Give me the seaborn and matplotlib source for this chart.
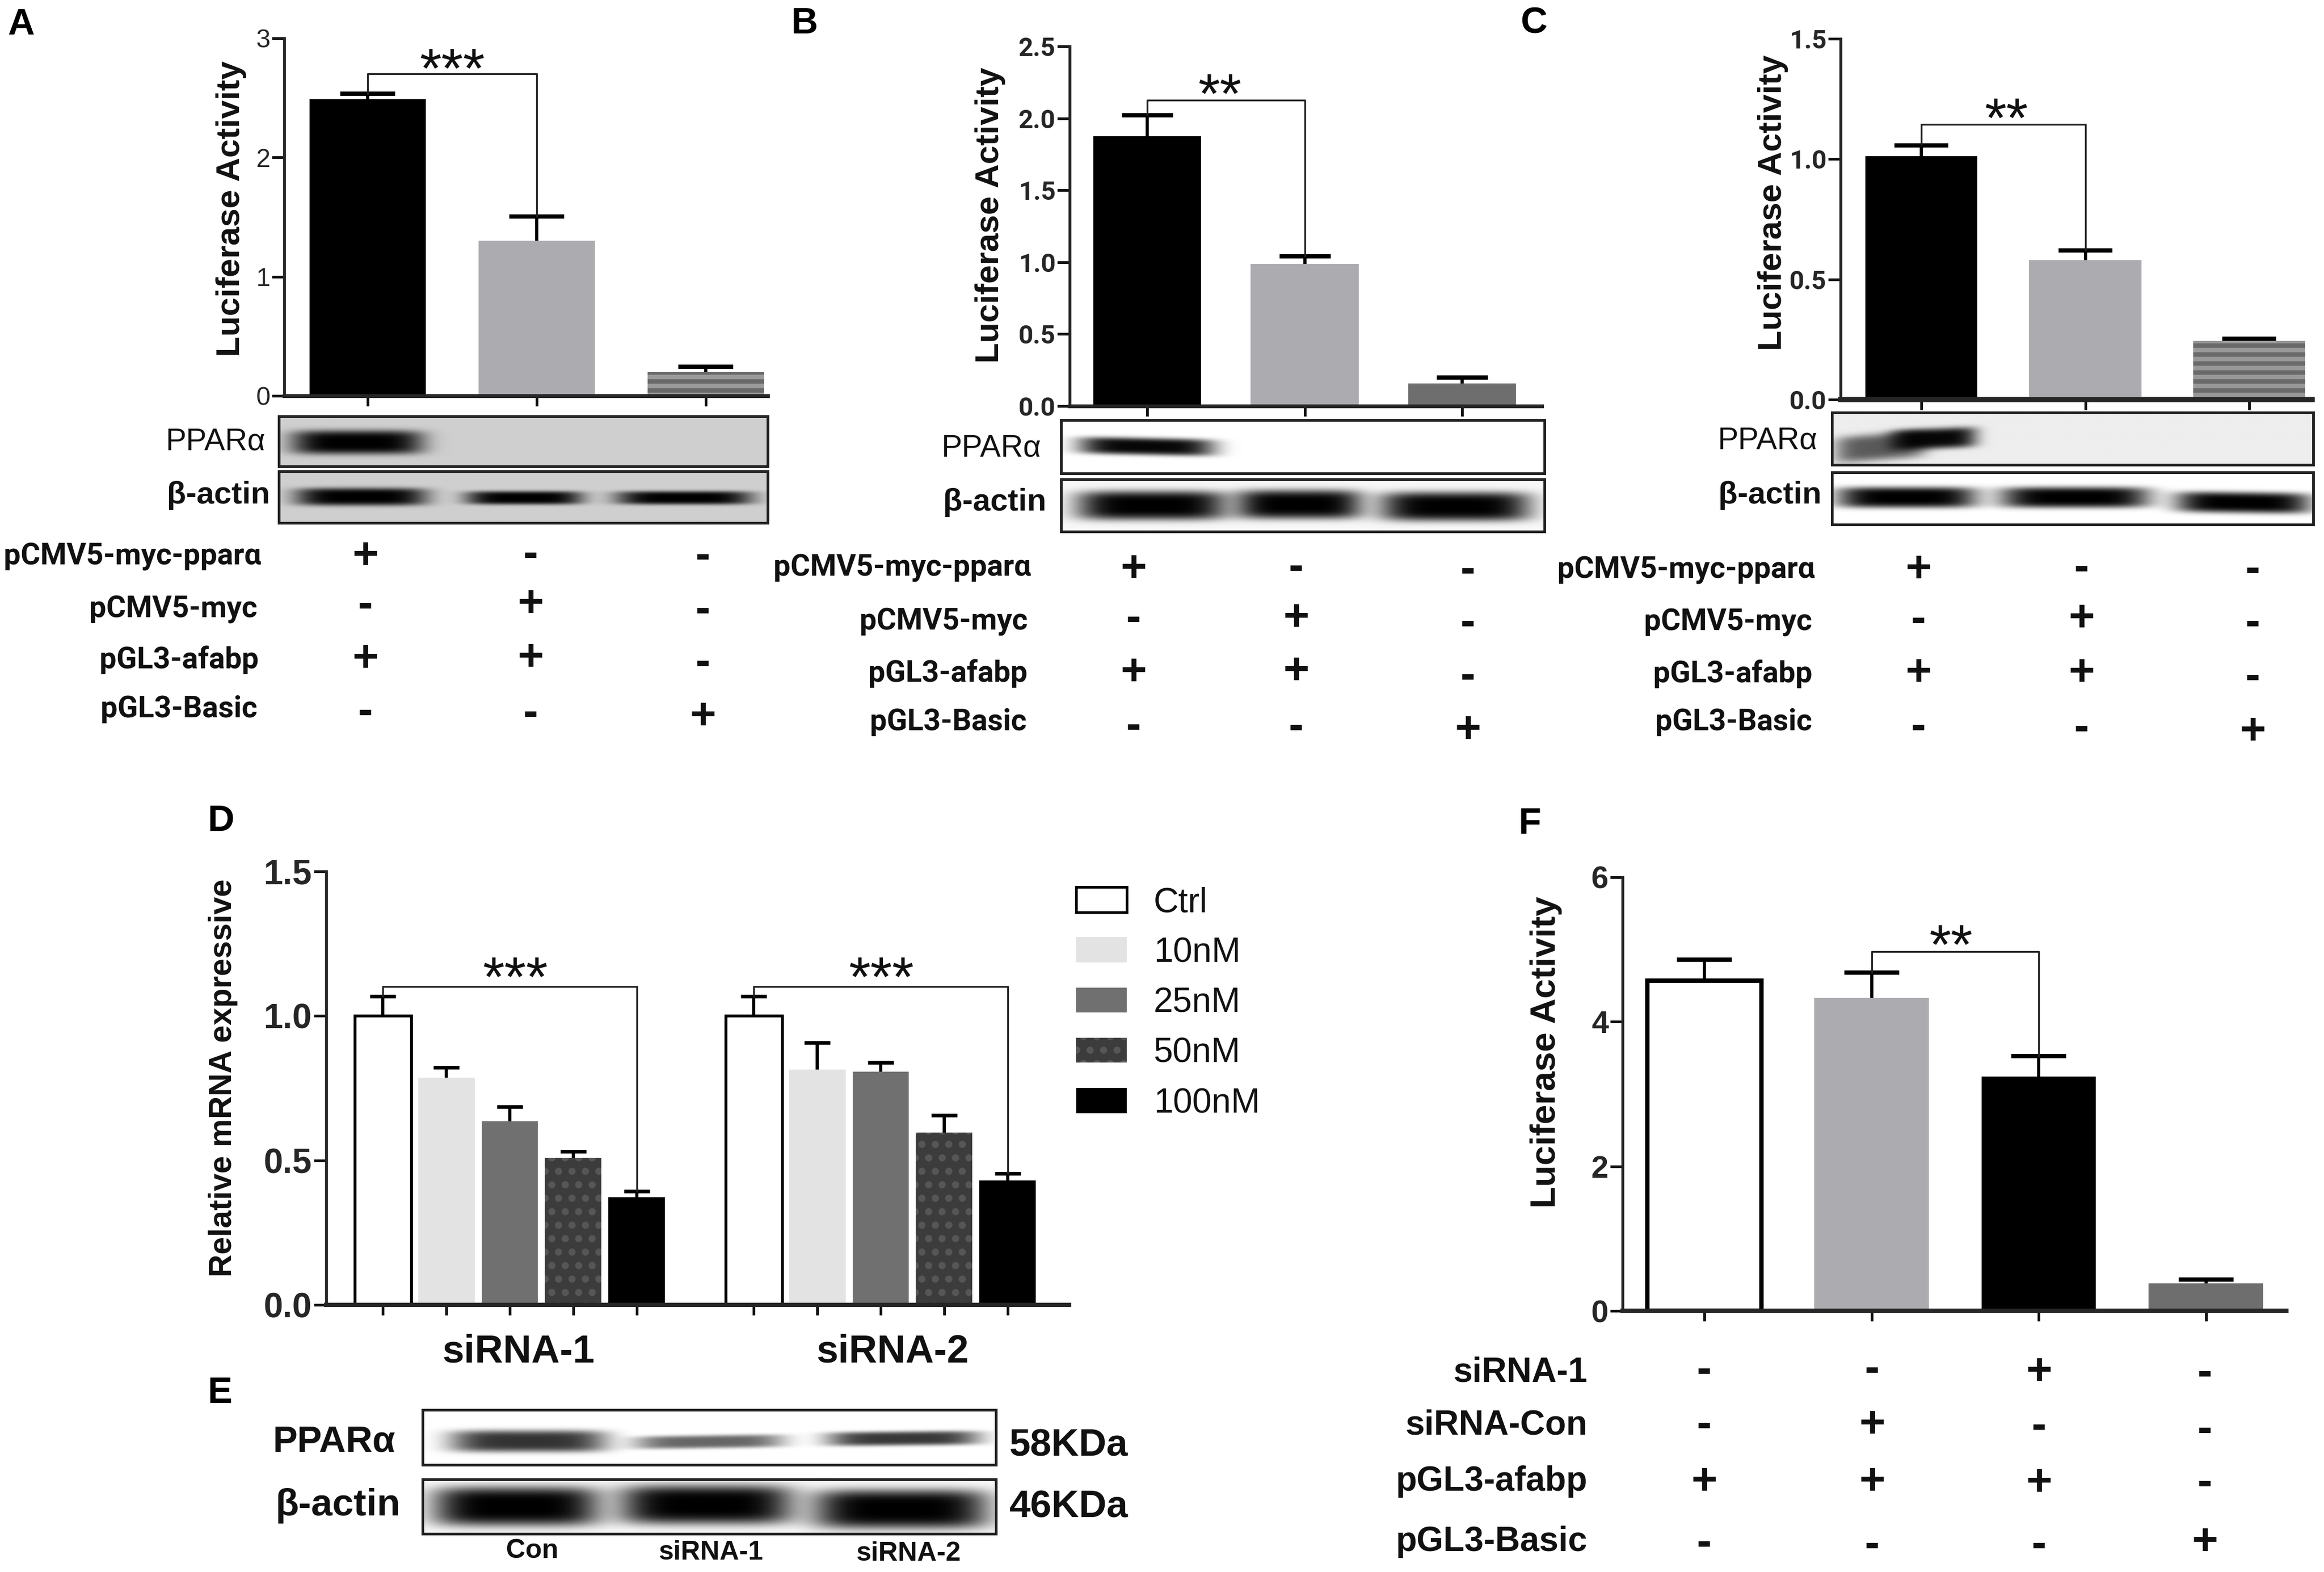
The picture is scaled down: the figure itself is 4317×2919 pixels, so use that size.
import numpy as np
import pandas as pd
import seaborn as sns
import matplotlib.pyplot as plt
from matplotlib.patches import Patch

W, H = 4317, 2919

# panel A
cats_a = ["pparα", "myc", "basic"]
vals_a = [2.49, 1.30, 0.20]
errs_a = [0.045, 0.205, 0.046]
# panel B
cats_b = ["pparα", "myc", "basic"]
vals_b = [1.876, 0.987, 0.156]
errs_b = [0.145, 0.053, 0.044]
# panel C
cats_c = ["pparα", "myc", "basic"]
vals_c = [1.013, 0.58, 0.244]
errs_c = [0.043, 0.04, 0.009]
# panel D
groups_d = ["siRNA-1", "siRNA-2"]
doses_d = ["Ctrl", "10nM", "25nM", "50nM", "100nM"]
vals_d1 = [1.0, 0.787, 0.635, 0.509, 0.372]
errs_d1 = [0.067, 0.035, 0.051, 0.022, 0.022]
vals_d2 = [1.0, 0.814, 0.806, 0.597, 0.431]
errs_d2 = [0.067, 0.093, 0.033, 0.059, 0.024]
# panel F
cats_f = ["blank", "con", "sirna", "basic"]
vals_f = [4.566, 4.333, 3.24, 0.383]
errs_f = [0.294, 0.347, 0.287, 0.047]

row_names_abc = ["pCMV5-myc-pparα", "pCMV5-myc", "pGL3-afabp", "pGL3-Basic"]
row_names_f = ["siRNA-1", "siRNA-Con", "pGL3-afabp", "pGL3-Basic"]
signs_abc = [["+", "-", "-"], ["-", "+", "-"], ["+", "+", "-"], ["-", "-", "+"]]
signs_f = [["-", "-", "+", "-"], ["-", "+", "-", "-"], ["+", "+", "+", "-"], ["-", "-", "-", "+"]]

# no condensed face is installed, Roboto is the closest to the squeezed labels
TIGHT = ["Roboto", "Liberation Sans"]
GREY = "#ababb0"

sns.set_style("ticks")
plt.rcParams["font.family"] = ["Liberation Sans", "DejaVu Sans"]
plt.rcParams["hatch.linewidth"] = 2.0

fig = plt.figure(figsize=(W / 300, H / 300), dpi=300)


def px_axes(x0, y0, x1, y1):
    return fig.add_axes([x0 / W, 1 - y1 / H, (x1 - x0) / W, (y1 - y0) / H])


def px_text(x, y, s, **kw):
    kw.setdefault("color", "#111111")
    kw.setdefault("va", "center")
    return fig.text(x / W, 1 - y / H, s, **kw)


def style_axis(ax, yticks, yticklabels, tick_font, left_lw, bottom_lw):
    sns.despine(ax=ax)
    ax.spines["left"].set_linewidth(left_lw)
    ax.spines["bottom"].set_linewidth(bottom_lw)
    ax.set_yticks(yticks)
    ax.set_yticklabels(yticklabels, **tick_font)
    ax.tick_params(axis="y", length=5.5, width=1.2, pad=0.8, color="#111111")
    ax.tick_params(axis="x", length=4.5, width=1.2, color="#111111", labelbottom=False)
    ax.set_xlabel("")


def add_errors(ax, xs, vals, errs, capsize, capthick=1.9):
    eb = ax.errorbar(xs, vals, yerr=[np.zeros(len(errs)), errs], fmt="none", ecolor="black",
                     elinewidth=1.4, capsize=capsize, capthick=capthick, zorder=4)
    # only the upper cap is drawn in the original
    eb[1][0].set_visible(False)


def bracket(ax, x0, x1, y0, y1, top):
    ax.plot([x0, x0, x1, x1], [y0, top, top, y1], color="#222222", lw=0.8, zorder=5)


def luciferase_panel(box, c0, step, cats, vals, errs, colors, ylim, yticks, yticklabels, tick_font,
                     capsize, bottom_lw, pair, top, hatches=None, edges=None):
    ax = px_axes(*box)
    sns.barplot(x=cats, y=vals, hue=cats, palette=colors, saturation=1, width=0.685,
                legend=False, ax=ax)
    for i, patch in enumerate(ax.patches[:len(cats)]):
        patch.set_linewidth(0)
        if hatches and hatches[i]:
            patch.set_hatch(hatches[i])
            patch.set_edgecolor("#6a6a6a")
        if edges and edges[i]:
            patch.set_edgecolor(edges[i])
            patch.set_linewidth(2.0)
    add_errors(ax, np.arange(len(cats)), vals, errs, capsize)
    ax.set_ylim(*ylim)
    ax.set_xlim((box[0] - c0) / step, (box[2] - c0) / step)
    style_axis(ax, yticks, yticklabels, tick_font, 1.3, bottom_lw)
    a, b = pair
    bracket(ax, a, b, vals[a] + errs[a], vals[b] + errs[b], top)
    return ax


def blot(box, bg, bands):
    ax = px_axes(*box)
    x, y = np.meshgrid(np.linspace(0, 1, 500), np.linspace(0, 1, 120))
    light = np.ones_like(x)
    for xc, yc, hw, hh, strength, tilt in bands:
        dy = y - yc - tilt * (x - xc)
        band = strength * np.exp(-np.abs((x - xc) / hw) ** 5) * np.exp(-np.abs(dy / hh) ** 4)
        light = light * (1 - band)
    ax.imshow(bg * light, cmap="gray", vmin=0, vmax=1, aspect="auto",
              extent=[0, 1, 1, 0], interpolation="bilinear")
    ax.set_xticks([])
    ax.set_yticks([])
    for spine in ax.spines.values():
        spine.set_linewidth(1.2)
        spine.set_color("#222222")
    return ax


def sign_table(names, signs, name_right, name_ys, col_xs, col_ys, name_size, family):
    for name, x, y in zip(names, name_right, name_ys):
        px_text(x, y, name, ha="right", fontsize=name_size, fontweight="bold", family=family)
    for r, row in enumerate(signs):
        for c, sign in enumerate(row):
            px_text(col_xs[c], col_ys[c][r], sign, ha="center", fontsize=20, fontweight="bold")


def stars(x, y, s):
    # asterisks sit high in the font, so place them from the baseline
    px_text(x, y + 46, s, ha="center", va="baseline", fontsize=25)


def y_label(ax, x, y, s, size):
    ax.set_ylabel(s, fontsize=size, fontweight="bold", color="#111111", va="center")
    ax.yaxis.set_label_coords(x / W, 1 - y / H, transform=fig.transFigure)


# ---------- A
font_a = {"fontsize": 11.5}
ax_a = luciferase_panel((528, 71, 1426, 735), 683, 314, cats_a, vals_a, errs_a,
                        ["black", GREY, "#9a9a9a"], (0, 3), [0, 1, 2, 3], ["0", "1", "2", "3"], font_a,
                        12.2, 1.7, (0, 1), 2.70, hatches=[None, None, "---"])
y_label(ax_a, 429, 387, "Luciferase Activity", 14.9)
stars(840, 116, "***")
blot((518, 773, 1426, 866), 0.81, [(0.16, 0.52, 0.135, 0.24, 1.0, 0.0)])
blot((518, 875, 1426, 971), 0.81, [(0.168, 0.5, 0.135, 0.17, 1.0, 0.0), (0.502, 0.52, 0.12, 0.13, 1.0, 0.0),
                                   (0.83, 0.52, 0.14, 0.13, 1.0, 0.0)])
px_text(493, 821, "PPARα", ha="right", fontsize=13.8)
px_text(502, 920, "β-actin", ha="right", fontsize=14, fontweight="bold")
sign_table(row_names_abc, signs_abc, [485, 478, 480, 478], [1034, 1132, 1225, 1317], [679, 986, 1306],
           [[1034, 1125, 1225, 1323], [1031, 1123, 1223, 1326], [1034, 1134, 1232, 1332]], 13.4, TIGHT)
px_text(14, 46, "A", ha="left", fontsize=16.5, fontweight="bold", color="black")

# ---------- B
font_b = {"fontsize": 11.5, "fontweight": "bold", "family": TIGHT}
ax_b = luciferase_panel((1987, 86, 2864, 754), 2131, 292.5, cats_b, vals_b, errs_b,
                        ["black", GREY, "#6e6e6e"], (0, 2.5), [0, 0.5, 1, 1.5, 2, 2.5],
                        ["0.0", "0.5", "1.0", "1.5", "2.0", "2.5"], font_b, 11.4, 1.7, (0, 1), 2.124)
y_label(ax_b, 1840, 399, "Luciferase Activity", 14.9)
stars(2266, 163, "**")
blot((1971, 780, 2869, 879), 1.0, [(0.176, 0.5, 0.14, 0.16, 0.97, 0.18)])
blot((1971, 890, 2869, 987), 0.97, [(0.187, 0.5, 0.155, 0.28, 1.0, 0.0), (0.492, 0.48, 0.13, 0.28, 1.0, 0.0),
                                    (0.815, 0.52, 0.155, 0.28, 1.0, 0.0)])
px_text(1934, 833, "PPARα", ha="right", fontsize=13.8)
px_text(1944, 933, "β-actin", ha="right", fontsize=14, fontweight="bold")
sign_table(row_names_abc, signs_abc, [1915, 1909, 1909, 1907], [1055, 1155, 1250, 1341], [2106, 2408, 2727],
           [[1058, 1150, 1250, 1350], [1055, 1149, 1248, 1351], [1060, 1158, 1257, 1357]], 13.4, TIGHT)
px_text(1469, 44, "B", ha="left", fontsize=16.5, fontweight="bold", color="black")

# ---------- C
ax_c = luciferase_panel((3419, 72, 4295, 742), 3569, 304.5, cats_c, vals_c, errs_c,
                        ["black", GREY, "#989898"], (0, 1.5), [0, 0.5, 1, 1.5],
                        ["0.0", "0.5", "1.0", "1.5"], font_b, 12, 2.3, (0, 1), 1.144, hatches=[None, None, "---"])
y_label(ax_c, 3293, 376, "Luciferase Activity", 14.9)
stars(3727, 208, "**")
blot((3403, 766, 4297, 863), 0.93, [(0.21, 0.5, 0.09, 0.2, 0.97, -0.4), (0.1, 0.66, 0.095, 0.26, 0.62, -0.7)])
blot((3403, 877, 4297, 974), 1.0, [(0.155, 0.48, 0.145, 0.2, 1.0, 0.0), (0.505, 0.48, 0.155, 0.2, 1.0, 0.0),
                                   (0.855, 0.58, 0.14, 0.2, 1.0, 0.12)])
px_text(3376, 819, "PPARα", ha="right", fontsize=13.8)
px_text(3383, 920, "β-actin", ha="right", fontsize=14, fontweight="bold")
sign_table(row_names_abc, signs_abc, [3371, 3366, 3366, 3366], [1059, 1156, 1251, 1341], [3564, 3867, 4185],
           [[1059, 1152, 1251, 1351], [1056, 1150, 1251, 1353], [1059, 1158, 1258, 1360]], 13.4, TIGHT)
px_text(2824, 44, "C", ha="left", fontsize=16.5, fontweight="bold", color="black")

# ---------- D
colors_d = ["white", "#e3e3e3", "#707070", "#3c3c3c", "black"]
df_d = pd.DataFrame({
    "group": np.repeat(groups_d, len(doses_d)),
    "dose": doses_d * 2,
    "value": vals_d1 + vals_d2,
})
ax_d = px_axes(606, 1618, 1986, 2423)
sns.barplot(data=df_d, x="group", y="value", hue="dose", palette=colors_d, saturation=1,
            width=0.856, gap=0.11, legend=False, ax=ax_d)
bar_x = []
for i, cont in enumerate(ax_d.containers):
    xs = [p.get_x() + p.get_width() / 2 for p in cont]
    bar_x.append(xs)
    for p in cont:
        p.set_linewidth(0)
        if i == 0:
            p.set_edgecolor("black")
            p.set_linewidth(1.3)
        if i == 3:
            p.set_hatch("..")
            p.set_edgecolor("#565656")
bar_x = np.array(bar_x).T
add_errors(ax_d, bar_x[0], vals_d1, errs_d1, 5.7, 1.6)
add_errors(ax_d, bar_x[1], vals_d2, errs_d2, 5.7, 1.6)
ax_d.set_ylim(0, 1.5)
ax_d.set_xlim((606 - 947) / 689, (1986 - 947) / 689)
style_axis(ax_d, [0, 0.5, 1, 1.5], ["0.0", "0.5", "1.0", "1.5"],
           {"fontsize": 15.5, "fontweight": "bold"}, 1.3, 1.9)
ax_d.set_xticks(bar_x.ravel())
bracket(ax_d, bar_x[0][0], bar_x[0][4], vals_d1[0] + errs_d1[0], vals_d1[4] + errs_d1[4], 1.102)
bracket(ax_d, bar_x[1][0], bar_x[1][4], vals_d2[0] + errs_d2[0], vals_d2[4] + errs_d2[4], 1.102)
y_label(ax_d, 415, 2002, "Relative mRNA expressive", 14.1)
stars(957, 1803, "***")
stars(1637, 1803, "***")
px_text(963, 2510, groups_d[0], ha="center", fontsize=17.5, fontweight="bold")
px_text(1658, 2510, groups_d[1], ha="center", fontsize=17.5, fontweight="bold")
handles = [Patch(facecolor=c, edgecolor="black" if i == 0 else c, linewidth=1.2 if i == 0 else 0)
           for i, c in enumerate(colors_d)]
handles[3] = Patch(facecolor=colors_d[3], edgecolor="#565656", linewidth=0, hatch="..")
fig.legend(handles, doses_d, loc="upper left", bbox_to_anchor=(1999 / W, 1 - 1646 / H), frameon=False,
           fontsize=15.5, handlelength=1.455, handleheight=0.73, handletextpad=0.77,
           labelspacing=0.515, borderpad=0, borderaxespad=0, labelcolor="#111111")
px_text(385, 1525, "D", ha="left", fontsize=16.5, fontweight="bold", color="black")

# ---------- E
blot((785, 2618, 1850, 2720), 1.0, [(0.184, 0.57, 0.136, 0.2, 0.8, 0.0), (0.5, 0.58, 0.13, 0.12, 0.6, -0.15),
                                    (0.839, 0.52, 0.133, 0.13, 0.78, -0.1)])
blot((785, 2747, 1850, 2848), 0.98, [(0.163, 0.5, 0.146, 0.36, 1.0, 0.0), (0.495, 0.47, 0.152, 0.36, 1.0, 0.0),
                                     (0.835, 0.55, 0.153, 0.36, 1.0, 0.0)])
px_text(734, 2678, "PPARα", ha="right", fontsize=16.5, fontweight="bold")
px_text(744, 2796, "β-actin", ha="right", fontsize=17, fontweight="bold")
px_text(1875, 2686, "58KDa", ha="left", fontsize=17, fontweight="bold")
px_text(1875, 2800, "46KDa", ha="left", fontsize=17, fontweight="bold")
px_text(989, 2880, "Con", ha="center", fontsize=12, fontweight="bold")
px_text(1320, 2883, groups_d[0], ha="center", fontsize=12, fontweight="bold")
px_text(1688, 2885, groups_d[1], ha="center", fontsize=12, fontweight="bold")
px_text(385, 2587, "E", ha="left", fontsize=16.5, fontweight="bold", color="black")

# ---------- F
font_f = {"fontsize": 13.8, "fontweight": "bold"}
ax_f = luciferase_panel((3014, 1629, 4247, 2434), 3166, 310.5, cats_f, vals_f, errs_f,
                        ["white", GREY, "black", "#6e6e6e"], (0, 6), [0, 2, 4, 6], ["0", "2", "4", "6"], font_f,
                        12.2, 2.0, (1, 2), 4.97, edges=["black", None, None, None])
y_label(ax_f, 2872, 1954, "Luciferase Activity", 15.7)
stars(3624, 1743, "**")
sign_table(row_names_f, signs_f, [2949] * 4, [2549, 2647, 2751, 2863], [3166, 3478, 3788, 4096],
           [[2546, 2647, 2753, 2867], [2544, 2647, 2753, 2870], [2549, 2650, 2755, 2870], [2551, 2656, 2755, 2865]],
           15.4, ["Liberation Sans"])
px_text(2820, 1530, "F", ha="left", fontsize=16.5, fontweight="bold", color="black")

fig.savefig("out.png", dpi=300, facecolor="white")
